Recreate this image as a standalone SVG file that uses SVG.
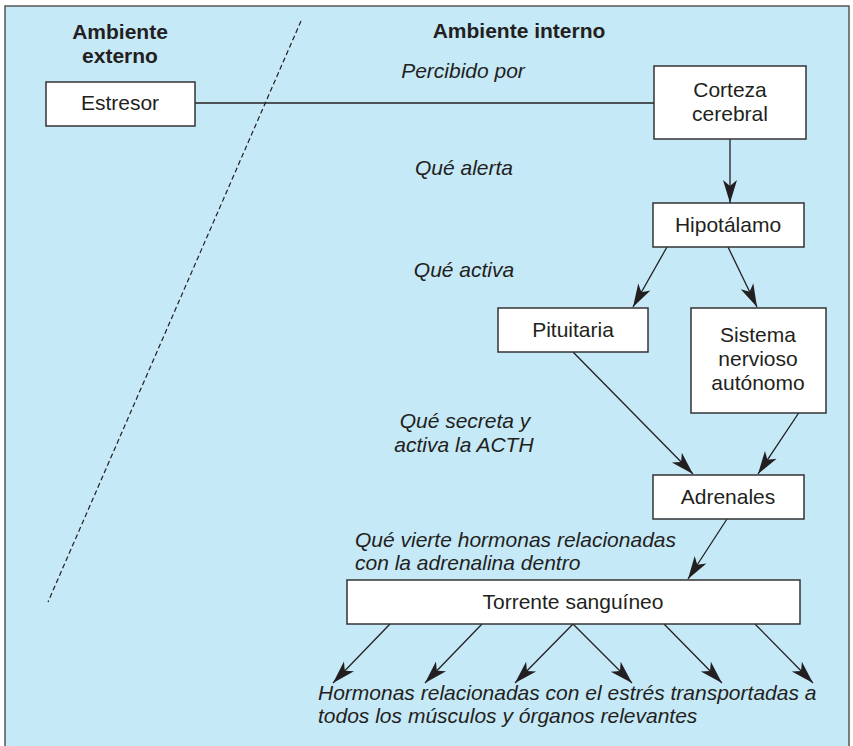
<svg xmlns="http://www.w3.org/2000/svg" width="853" height="746" viewBox="0 0 853 746">
<style>
.box{fill:#fff;stroke:#333;stroke-width:1.5}
.t{font-family:"Liberation Sans",Arial,sans-serif;font-size:21px;fill:#231f20}
.c{text-anchor:middle}
.b{font-weight:bold}
.i{font-style:italic}
.ln{stroke:#231f20;stroke-width:1.3;fill:none}
.ar{marker-end:url(#ah)}
</style>
<defs>
<marker id="ah" markerUnits="userSpaceOnUse" markerWidth="26" markerHeight="18" viewBox="-24 -9 26 18" refX="0" refY="0" orient="auto">
<path d="M0,0 L-23,-7 L-17,0 L-23,7 Z" fill="#231f20"/>
</marker>
</defs>
<rect x="0" y="0" width="853" height="746" fill="#fff"/>
<rect x="5" y="6" width="844" height="745" fill="#c6e9f8" stroke="#555" stroke-width="1.5"/>
<g id="labels">
<text class="t b c" x="120" y="39">Ambiente</text>
<text class="t b c" x="120" y="63">externo</text>
<text class="t b c" x="519" y="38">Ambiente interno</text>
<text class="t i c" x="463" y="78">Percibido por</text>
<text class="t i c" x="464" y="175">Qué alerta</text>
<text class="t i c" x="464" y="277">Qué activa</text>
<text class="t i c" x="465" y="428">Qué secreta y</text>
<text class="t i c" x="464" y="452">activa la ACTH</text>
<text class="t i" x="355" y="547">Qué vierte hormonas relacionadas</text>
<text class="t i" x="355" y="570">con la adrenalina dentro</text>
<text class="t i" x="318" y="700">Hormonas relacionadas con el estrés transportadas a</text>
<text class="t i" x="318" y="723">todos los músculos y órganos relevantes</text>
</g>
<line x1="301" y1="21" x2="48" y2="602" stroke="#231f20" stroke-width="1.2" stroke-dasharray="5,3"/>
<g id="connectors">
<line class="ln" x1="195" y1="103" x2="654" y2="103"/>
<line class="ln ar" x1="730" y1="139" x2="730" y2="203"/>
<line class="ln ar" x1="667" y1="247" x2="633" y2="307"/>
<line class="ln ar" x1="728" y1="247" x2="757" y2="307"/>
<line class="ln ar" x1="573" y1="352" x2="693" y2="474"/>
<line class="ln ar" x1="800" y1="411" x2="758" y2="474"/>
<line class="ln ar" x1="727" y1="519" x2="688" y2="579"/>
<line class="ln ar" x1="390" y1="624" x2="333" y2="683"/>
<line class="ln ar" x1="482" y1="624" x2="425" y2="683"/>
<line class="ln ar" x1="573" y1="624" x2="515" y2="683"/>
<line class="ln ar" x1="573" y1="624" x2="632" y2="683"/>
<line class="ln ar" x1="664" y1="624" x2="722" y2="683"/>
<line class="ln ar" x1="755" y1="624" x2="813" y2="683"/>
</g>
<g id="estresor"><rect class="box" x="46" y="82" width="149" height="44"/><text class="t c" x="120" y="110">Estresor</text></g>
<g id="corteza"><rect class="box" x="654" y="66" width="152" height="73"/><text class="t c" x="730" y="97">Corteza</text><text class="t c" x="730" y="121">cerebral</text></g>
<g id="hipotalamo"><rect class="box" x="653" y="203" width="151" height="44"/><text class="t c" x="728" y="232">Hipotálamo</text></g>
<g id="pituitaria"><rect class="box" x="498" y="308" width="150" height="44"/><text class="t c" x="573" y="337">Pituitaria</text></g>
<g id="sistema"><rect class="box" x="691" y="308" width="135" height="105"/><text class="t c" x="758" y="342">Sistema</text><text class="t c" x="758" y="366">nervioso</text><text class="t c" x="758" y="390">autónomo</text></g>
<g id="adrenales"><rect class="box" x="653" y="475" width="151" height="44"/><text class="t c" x="728" y="504">Adrenales</text></g>
<g id="torrente"><rect class="box" x="347" y="580" width="453" height="44"/><text class="t c" x="573" y="609">Torrente sanguíneo</text></g>
</svg>
